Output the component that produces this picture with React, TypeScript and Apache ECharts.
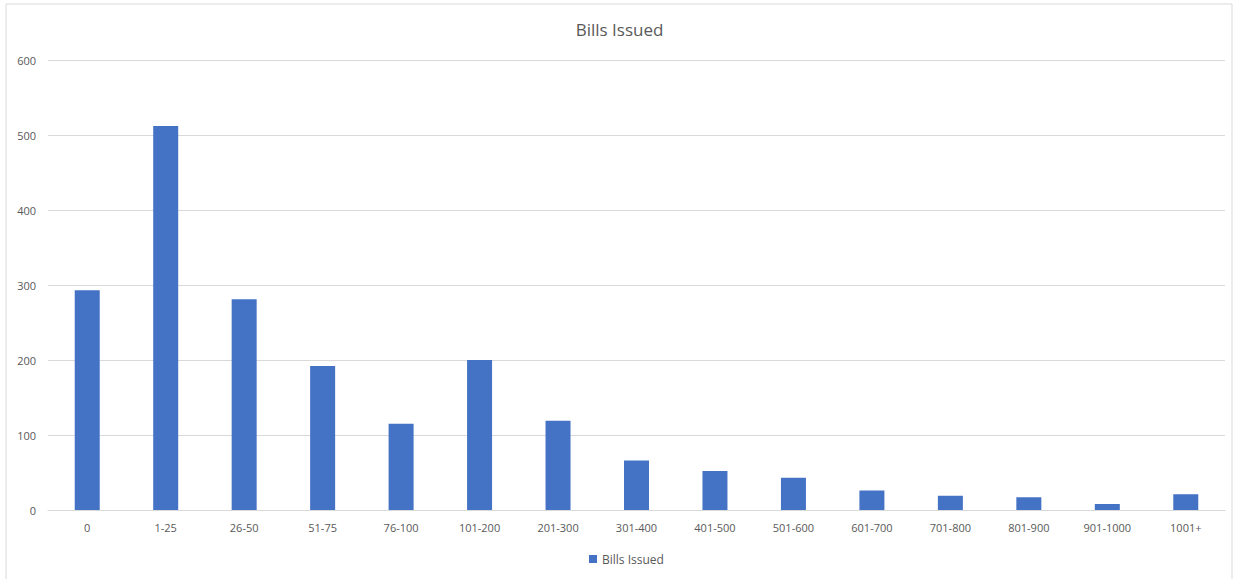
import React, { useEffect, useRef } from "react";
import * as echarts from "echarts";

const categories = ["0", "1-25", "26-50", "51-75", "76-100", "101-200", "201-300", "301-400", "401-500", "501-600", "601-700", "701-800", "801-900", "901-1000", "1001+"];
const billsIssued = [293, 512, 281, 192, 115, 200, 119, 66, 52, 43, 26, 19, 17, 8, 21];
const yTicks = { min: 0, max: 600, interval: 100 };

export default function App() {
  const ref = useRef<HTMLDivElement>(null);
  useEffect(() => {
    document.body.style.margin = "0";
    const chart = echarts.init(ref.current!, null, { renderer: "svg" });
    const font = "'Open Sans', 'Noto Sans', sans-serif";
    chart.setOption({
      animation: false,
      backgroundColor: "#ffffff",
      title: {
        text: "Bills Issued",
        left: "center",
        top: 16,
        textStyle: { fontFamily: font, fontSize: 17, fontWeight: "normal", color: "#595959" },
      },
      legend: {
        bottom: 9,
        left: 584,
        itemWidth: 8,
        itemHeight: 8,
        itemGap: 10,
        icon: "rect",
        textStyle: { fontFamily: font, fontSize: 12, color: "#595959" },
        data: ["Bills Issued"],
      },
      graphic: [
        {
          type: "rect",
          shape: { x: 6, y: 4, width: 1226, height: 600 },
          style: { fill: "none", stroke: "#d9d9d9", lineWidth: 1 },
          silent: true,
        },
      ],
      grid: { left: 48, right: 14, top: 60, bottom: 69 },
      xAxis: {
        type: "category",
        data: categories,
        axisTick: { show: false },
        axisLine: { lineStyle: { color: "#d9d9d9" } },
        axisLabel: { fontFamily: font, fontSize: 11, color: "#595959", margin: 12 },
      },
      yAxis: {
        type: "value",
        min: yTicks.min,
        max: yTicks.max,
        interval: yTicks.interval,
        axisLine: { show: false },
        axisTick: { show: false },
        splitLine: { lineStyle: { color: "#d9d9d9" } },
        axisLabel: { fontFamily: font, fontSize: 11, color: "#595959", margin: 12 },
      },
      series: [
        {
          name: "Bills Issued",
          type: "bar",
          data: billsIssued,
          barWidth: 25,
          itemStyle: { color: "#4472c4" },
        },
      ],
    });
    return () => chart.dispose();
  }, []);
  return <div ref={ref} style={{ width: 1239, height: 579 }} />;
}
